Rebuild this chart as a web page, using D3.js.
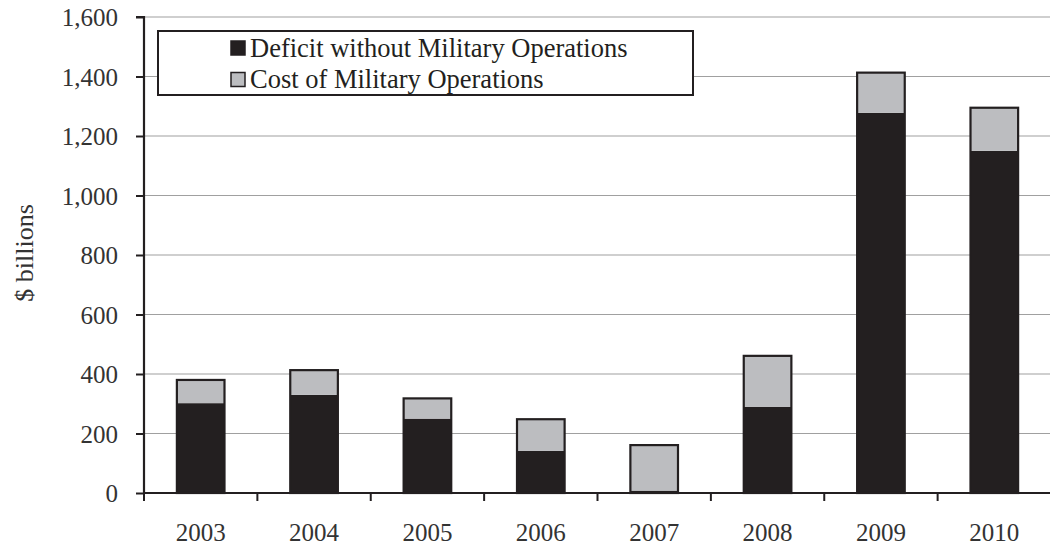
<!DOCTYPE html>
<html><head><meta charset="utf-8">
<script src="https://cdn.jsdelivr.net/npm/d3@7"></script>
<style>body{margin:0;background:#fff}text{font-family:"Liberation Serif","Times New Roman",serif}</style>
</head><body><svg id="c" width="1050" height="547"></svg>
<script>
const years = ["2003","2004","2005","2006","2007","2008","2009","2010"];
const deficitWithout = [302, 330, 250, 142, 8, 290, 1278, 1150];
const militaryCost = [78, 83, 68, 106, 153, 171, 135, 145];
const yTicks = [0,200,400,600,800,1000,1200,1400,1600];
const seriesNames = ["Deficit without Military Operations","Cost of Military Operations"];
const colors = ["#231f20","#bcbdc0"];

const svg = d3.select("#c");
const L=144, R=1051, T=17, B=493;
const x = d3.scaleBand().domain(years).range([L,R]).paddingInner(0.58).paddingOuter(0.29);
const y = d3.scaleLinear().domain([0,1600]).range([B,T]);

// gridlines
svg.append("g").selectAll("line").data(yTicks.slice(1)).join("line")
  .attr("x1",L).attr("x2",1050).attr("y1",d=>y(d)).attr("y2",d=>y(d))
  .attr("stroke","#a0a0a0").attr("stroke-width",1.2);

const rows = years.map((yr,i)=>({year:yr, d:deficitWithout[i], m:militaryCost[i]}));
const stack = d3.stack().keys(["d","m"])(rows);
svg.append("g").selectAll("g").data(stack).join("g").attr("fill",(s,i)=>colors[i])
  .selectAll("rect").data(s=>s).join("rect")
  .attr("x",d=>x(d.data.year)).attr("width",x.bandwidth())
  .attr("y",d=>y(d[1])).attr("height",d=>y(d[0])-y(d[1]));
// outline
svg.append("g").selectAll("rect").data(rows).join("rect")
  .attr("x",d=>x(d.year)).attr("width",x.bandwidth())
  .attr("y",d=>y(d.d+d.m)).attr("height",d=>y(0)-y(d.d+d.m))
  .attr("fill","none").attr("stroke","#231f20").attr("stroke-width",2.2);

// y axis
const ya = svg.append("g").attr("transform",`translate(${L},0)`)
  .call(d3.axisLeft(y).tickValues(yTicks).tickFormat(d3.format(",")).tickSize(8).tickPadding(18));
ya.select(".domain").attr("stroke","#231f20").attr("stroke-width",2.2).attr("d",`M-8,${T}H0V${B}`);
ya.selectAll(".tick line").attr("stroke","#231f20").attr("stroke-width",2);
ya.selectAll(".tick text").attr("font-size",25).attr("fill","#333").attr("font-family","Liberation Serif").attr("dy","0.34em");

// x axis
const xa = svg.append("g").attr("transform",`translate(0,${B})`);
xa.append("line").attr("x1",L).attr("x2",1050).attr("y1",0).attr("y2",0).attr("stroke","#231f20").attr("stroke-width",2.2);
const bounds = years.map((yr,i)=>L + i*x.step());
xa.selectAll("line.t").data(bounds).join("line").attr("class","t")
  .attr("x1",d=>d).attr("x2",d=>d).attr("y1",0).attr("y2",8).attr("stroke","#231f20").attr("stroke-width",2);
xa.selectAll("text").data(years).join("text")
  .attr("x",d=>x(d)+x.bandwidth()/2).attr("y",48).attr("text-anchor","middle")
  .attr("font-size",25).attr("fill","#333").text(d=>d);

// y label
svg.append("text").attr("transform","translate(33,253) rotate(-90)").attr("text-anchor","middle")
  .attr("font-size",26).attr("fill","#333").text("$ billions");

// legend
const lg = svg.append("g");
lg.append("rect").attr("x",158).attr("y",31).attr("width",535).attr("height",64)
  .attr("fill","#fff").attr("stroke","#231f20").attr("stroke-width",2);
seriesNames.forEach((n,i)=>{
  const yy = 48 + i*31.5;
  lg.append("rect").attr("x",231).attr("y",yy-7).attr("width",14).attr("height",14)
    .attr("fill",colors[i]).attr("stroke","#231f20").attr("stroke-width",1.5);
  lg.append("text").attr("x",250).attr("y",yy+8.5).attr("font-size",26.5).attr("fill","#231f20").text(n);
});
</script></body></html>
